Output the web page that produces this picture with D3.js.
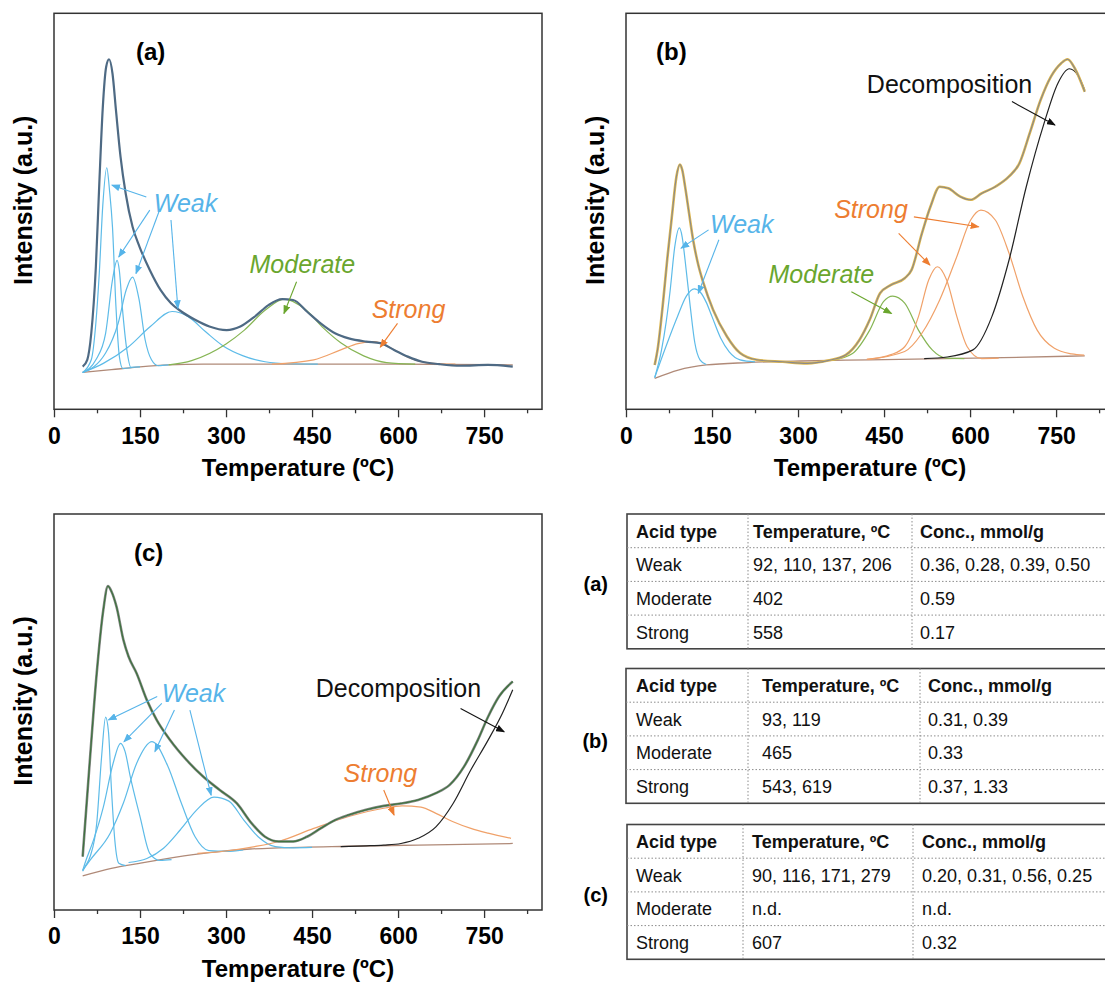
<!DOCTYPE html>
<html>
<head>
<meta charset="utf-8">
<script src="https://cdn.jsdelivr.net/npm/d3@7"></script>
<style>
  body { margin: 0; background: #fff; }
  text { font-family: "Liberation Sans", Arial, sans-serif; }
</style>
</head>
<body>
<div id="chart"></div>
<script>
// Axis ticks (temperature, ºC).
const majorTicks = [0, 150, 300, 450, 600, 750];
const minorTicks = [75, 225, 375, 525, 675, 825];

// Panel (a) curves: [temperature, intensity (a.u., 0-100 of the frame)].
const aMeasured = [[50,10.8],[58,12.5],[65,19.2],[73,36],[79,57],[85,76],[91,86.5],[96,88.4],[102,84.8],[108,75.6],[116,63.8],[125,54.5],[137,46.1],[149,41.1],[167,35.2],[186,30.1],[204,26.8],[222,24.7],[246,22.6],[271,20.9],[301,20],[325,20.9],[350,23.4],[374,26.3],[398,27.8],[417,27.6],[441,24.7],[465,21.7],[490,19.2],[514,17.9],[544,17.1],[569,16.7],[593,15],[617,13.3],[642,12],[672,11.4],[709,11],[757,11.2],[800,10.8]];
const aBaseline = [[50,9.3],[100,10],[150,10.7],[200,11.2],[260,11.4],[400,11.4],[600,11.4],[800,11.2]];
const aWeak = [
  [[50,9.3],[65,12.5],[73,21.8],[79,34.4],[85,51.3],[92,61],[97,55],[102,46],[108,26],[114,13.3],[120,10.3],[135,10.5]],
  [[50,9.3],[73,12.5],[90,19.2],[102,32.7],[110,37.6],[114,35],[119,26],[127,15],[134,10.6],[150,10.7]],
  [[50,9.3],[90,14.2],[112,21.8],[126,30.2],[137,33.4],[148,28],[159,17.5],[170,12.5],[182,11],[200,11.2]],
  [[50,9.3],[86,11.6],[130,15.8],[168,20.9],[206,24.7],[234,23.4],[265,19.5],[295,16],[330,13.5],[368,12],[410,11.5],[460,11.4]]
];
const aModerate = [[200,11.2],[240,12.3],[300,16.5],[332,20],[368,25],[402,27.8],[440,25],[470,20.5],[500,16.8],[540,13.5],[580,11.8],[630,11.4]];
const aStrong = [[380,11.4],[453,12.5],[500,15],[530,16.6],[558,17.1],[590,15.3],[620,13],[660,11.6],[700,11.4]];

// Panel (b) curves.
const bMeasured = [[50,11.2],[55,15],[65,27.6],[72,38],[80,48.7],[88,58.8],[94,61.8],[98,60.5],[103,56.3],[110,49.5],[117,42.8],[126,36.5],[135,31.9],[152,25.1],[176,18.4],[199,14.2],[228,12.5],[273,12],[316,11.6],[352,12.3],[383,13.7],[407,17.5],[425,22.6],[443,29.3],[462,31.4],[486,33.1],[498,35.2],[516,44.4],[531,51.2],[547,56.2],[562,55.8],[583,53.7],[601,52.9],[620,54.5],[644,56.2],[668,58.8],[686,62.1],[704,69.7],[723,78.1],[741,84],[759,87.4],[770,88.4],[783,86],[800,80.2]];
const bBaseline = [[50,7.8],[91,9.9],[140,11.2],[213,11.8],[304,12.2],[425,12.5],[607,12.9],[800,13.5]];
const bWeak = [
  [[50,8],[62,15],[70,22],[77,30],[85,41],[93,45.8],[98,43.5],[103,37.7],[112,26],[120,16.8],[129,12.5],[140,11.3]],
  [[50,8],[70,16],[90,23.5],[105,28.5],[119,30.4],[130,29.5],[140,27],[150,23.4],[165,18],[180,14.5],[199,12.5],[225,12]]
];
const bModerate = [[360,12.4],[395,14.1],[425,20],[449,27.2],[465,28.6],[486,26.8],[510,20],[534,15],[559,12.9],[590,12.8]];
const bStrong = [
  [[420,12.6],[462,13.8],[486,15.8],[510,23.4],[528,32.7],[543,36],[559,32.7],[577,23.4],[595,15.8],[620,12.8],[650,12.9]],
  [[420,12.6],[486,14.6],[516,19.2],[547,27.6],[577,38.6],[601,47.8],[619,50.3],[644,47.8],[668,39.4],[692,28.5],[717,20],[747,15.4],[777,14],[799,13.7]]
];
const bDecomposition = [[520,12.8],[560,13.2],[605,15],[638,23.4],[668,37.7],[698,56.2],[729,72.2],[753,82.3],[773,86],[788,84.4],[800,80.6]];

// Panel (c) curves.
const cMeasured = [[50,13.5],[63,38.7],[74.5,59.8],[86,75.8],[94,81.8],[100,80.5],[109,76.6],[121,68.2],[130,64],[144,59.8],[162,53],[179,48],[202,43],[231,37.9],[260,33.7],[289,30.3],[319,26.9],[344,22],[368,18.5],[392,17.3],[417,17.3],[441,18.5],[465,20.6],[490,22.7],[514,24],[544,25.3],[575,26.3],[605,26.9],[635,27.8],[666,29.5],[690,31.6],[715,36.2],[739,42.9],[757,48.8],[776,53.9],[800,57.7]];
const cBaseline = [[50,8.6],[100,10.5],[149,11.8],[210,13.3],[271,14.5],[342,15.4],[392,15.7],[514,16.1],[635,16.4],[800,16.8]];
const cWeak = [
  [[50,9.8],[54,10.9],[63,13.5],[74.5,21.9],[83,38.7],[90,48.7],[95,45],[100,31],[106,17.7],[113,11.8],[125,11.2]],
  [[50,10],[54,11.8],[69,17.7],[86,26],[103,37],[116,42.1],[124,40],[133,33.7],[150,23.6],[167,14.3],[185,12.5],[205,12.7]],
  [[50,10],[63,12.6],[98,19.4],[121,27],[144,37],[171,42.5],[198,36.5],[222,27],[246,18.5],[270,15],[300,14.8],[330,15.2]],
  [[130,12],[162,13],[191,15.6],[220,20.2],[249,25.3],[279,28.5],[305,27.5],[331,22.7],[356,18.5],[386,16],[417,15.7],[450,15.8]]
];
const cStrong = [[250,14.3],[301,14.9],[350,16],[392,17.3],[453,20.6],[514,23.6],[575,25.7],[607,26.3],[640,26],[666,24.4],[696,22.3],[727,20.6],[757,19.4],[797,18.1]];
const cDecomposition = [[500,16],[545,16.2],[575,16.4],[605,16.8],[635,18.1],[666,21],[696,26.9],[727,35.4],[757,42.9],[782,49.7],[800,55.6]];

// Tables.
const tableHeader = ["Acid type", "Temperature, ºC", "Conc., mmol/g"];
const acidTypes = ["Weak", "Moderate", "Strong"];
const aTemps = ["92, 110, 137, 206", "402", "558"];
const aConc = ["0.36, 0.28, 0.39, 0.50", "0.59", "0.17"];
const bTemps = ["93, 119", "465", "543, 619"];
const bConc = ["0.31, 0.39", "0.33", "0.37, 1.33"];
const cTemps = ["90, 116, 171, 279", "n.d.", "607"];
const cConc = ["0.20, 0.31, 0.56, 0.25", "n.d.", "0.32"];

// Colour codes.
const weakColor = "#56b4e9";
const weakLine = "#5dbbe8";
const moderateColor = "#6aa62e";
const moderateLine = "#86b554";
const strongColor = "#ed7d31";
const strongLine = "#f0a169";
const baseColor = "#b08a78";

const svg = d3.select("#chart")
  .append("svg")
    .attr("width", 1105)
    .attr("height", 985)
    .style("background", "#fff");

// Arrow heads, one per colour.
const defs = svg.append("defs");
[["weak", weakColor], ["moderate", moderateColor], ["strong", strongColor], ["dec", "#111"]].forEach(function(m) {
  defs.append("marker")
      .attr("id", "arr-" + m[0])
      .attr("markerUnits", "userSpaceOnUse")
      .attr("markerWidth", 9)
      .attr("markerHeight", 7)
      .attr("refX", 8)
      .attr("refY", 3.5)
      .attr("orient", "auto")
    .append("path")
      .attr("d", "M0,0 L9,3.5 L0,7 Z")
      .attr("fill", m[1]);
});

function drawPanel(p) {
  const x = d3.scaleLinear().domain([0, 851]).range([p.left, p.left + 488]);
  const y = d3.scaleLinear().domain([0, 100]).range([p.bottom, p.top]);
  const g = svg.append("g");

  const line = d3.line()
    .x(d => x(d[0]))
    .y(d => y(d[1]))
    .curve(d3.curveMonotoneX);

  const drawCurve = function(data, color, width) {
    g.append("path")
      .datum(data)
      .attr("d", line)
      .attr("fill", "none")
      .attr("stroke", color)
      .attr("stroke-width", width)
      .attr("stroke-linejoin", "round");
  };

  // Frame.
  g.append("rect")
    .attr("x", p.left)
    .attr("y", p.top)
    .attr("width", 488)
    .attr("height", p.bottom - p.top)
    .attr("fill", "none")
    .attr("stroke", "#333")
    .attr("stroke-width", 1.5);

  // X axis, major and minor ticks.
  g.append("g")
    .attr("transform", "translate(0," + p.bottom + ")")
    .call(d3.axisBottom(x).tickValues(majorTicks).tickSize(8).tickPadding(10).tickFormat(d3.format("d")))
    .call(a => a.select(".domain").remove())
    .call(a => a.selectAll("line").attr("stroke", "#333").attr("stroke-width", 1.3))
    .call(a => a.selectAll("text")
      .attr("fill", "#000")
      .style("font-family", "'Liberation Sans', Arial, sans-serif")
      .style("font-size", "23px")
      .style("font-weight", "700"));

  g.append("g")
    .attr("transform", "translate(0," + p.bottom + ")")
    .call(d3.axisBottom(x).tickValues(minorTicks).tickSize(4).tickFormat(""))
    .call(a => a.select(".domain").remove())
    .call(a => a.selectAll("line").attr("stroke", "#333").attr("stroke-width", 1.3));

  // Axis titles.
  g.append("text")
    .attr("x", p.left + 244)
    .attr("y", p.bottom + 67)
    .attr("text-anchor", "middle")
    .style("font-size", "24px")
    .style("font-weight", "700")
    .text("Temperature (ºC)");

  g.append("text")
    .attr("transform", "translate(" + (p.left - 22) + "," + (p.top + 187) + ") rotate(-90)")
    .attr("text-anchor", "middle")
    .style("font-size", "25px")
    .style("font-weight", "700")
    .text("Intensity (a.u.)");

  // Panel letter.
  g.append("text")
    .attr("x", p.left + p.letterDx)
    .attr("y", p.top + 47)
    .style("font-size", "24px")
    .style("font-weight", "700")
    .text(p.letter);

  // Curves: baseline, fitted peaks, then the measured signal on top.
  drawCurve(p.baseline, baseColor, 1.3);
  p.weak.forEach(d => drawCurve(d, weakLine, 1.2));
  if (p.moderate) drawCurve(p.moderate, moderateLine, 1.2);
  p.strong.forEach(d => drawCurve(d, strongLine, 1.2));
  if (p.decomposition) drawCurve(p.decomposition, "#222", 1.2);
  if (p.fitColor) drawCurve(p.measured, p.fitColor, 2.6);
  drawCurve(p.measured, p.measuredColor, p.measuredWidth);

  // Annotations with arrows (given in data coordinates).
  p.notes.forEach(function(n) {
    g.append("text")
      .attr("x", x(n.at[0]))
      .attr("y", y(n.at[1]))
      .attr("fill", n.color)
      .style("font-size", "25px")
      .style("font-style", n.italic ? "italic" : "normal")
      .text(n.text);
    n.arrows.forEach(function(a) {
      g.append("line")
        .attr("x1", x(a[0]))
        .attr("y1", y(a[1]))
        .attr("x2", x(a[2]))
        .attr("y2", y(a[3]))
        .attr("stroke", n.color)
        .attr("stroke-width", 1.1)
        .attr("marker-end", "url(#arr-" + n.marker + ")");
    });
  });
}

drawPanel({
  letter: "(a)", letterDx: 82, left: 54, top: 13.3, bottom: 409.3,
  measured: aMeasured, measuredColor: "#4e6a84", measuredWidth: 2.2,
  baseline: aBaseline, weak: aWeak, moderate: aModerate, strong: [aStrong],
  notes: [
    {text: "Weak", color: weakColor, marker: "weak", italic: true, at: [174, 49.8],
      arrows: [[161, 53.6, 101, 56.6], [167, 50.3, 113, 38.5], [183, 49.9, 143, 34.3], [204, 47.8, 216, 25.5]]},
    {text: "Moderate", color: moderateColor, marker: "moderate", italic: true, at: [341, 34.4],
      arrows: [[423, 32.2, 401, 24.2]]},
    {text: "Strong", color: strongColor, marker: "strong", italic: true, at: [554, 23],
      arrows: [[599, 21.7, 569, 15.7]]}
  ]
});

drawPanel({
  letter: "(b)", letterDx: 30, left: 626, top: 13.3, bottom: 409.3,
  measured: bMeasured, measuredColor: "#8a8a8a", measuredWidth: 1.1, fitColor: "#e0b84e",
  baseline: bBaseline, weak: bWeak, moderate: bModerate, strong: bStrong, decomposition: bDecomposition,
  notes: [
    {text: "Weak", color: weakColor, marker: "weak", italic: true, at: [146.5, 44.5],
      arrows: [[144, 45.3, 96, 40.7], [162, 42.8, 126, 29.3]]},
    {text: "Moderate", color: moderateColor, marker: "moderate", italic: true, at: [248.6, 31.9],
      arrows: [[393, 29.7, 463, 24.2]]},
    {text: "Strong", color: strongColor, marker: "strong", italic: true, at: [363, 48.3],
      arrows: [[475.5, 44.4, 530, 36.4], [502, 48.6, 615, 46.1]]},
    {text: "Decomposition", color: "#111", marker: "dec", italic: false, at: [420, 79.9],
      arrows: [[673, 77.7, 748, 71.8]]}
  ]
});

drawPanel({
  letter: "(c)", letterDx: 80, left: 54, top: 514, bottom: 910,
  measured: cMeasured, measuredColor: "#3f7340", measuredWidth: 1.3, fitColor: "#8a8a8a",
  baseline: cBaseline, weak: cWeak, moderate: null, strong: [cStrong], decomposition: cDecomposition,
  notes: [
    {text: "Weak", color: weakColor, marker: "weak", italic: true, at: [188, 52.6],
      arrows: [[180, 53.9, 95, 48], [188, 52.2, 122, 42.5], [210, 50.5, 176, 40], [237, 50.5, 274, 29]]},
    {text: "Decomposition", color: "#111", marker: "dec", italic: false, at: [456.5, 53.9],
      arrows: [[709, 50.9, 785, 45]]},
    {text: "Strong", color: strongColor, marker: "strong", italic: true, at: [505, 32.4],
      arrows: [[575, 30.3, 593, 24]]}
  ]
});

// Tables beside panel (c).
function drawTable(t) {
  const g = svg.append("g");
  const rowH = 33.7;
  const rows = [tableHeader].concat(acidTypes.map((d, i) => [d, t.temps[i], t.conc[i]]));
  const bottom = t.top + rowH * 4;

  g.append("rect")
    .attr("x", t.left)
    .attr("y", t.top)
    .attr("width", 520)
    .attr("height", rowH * 4)
    .attr("fill", "none")
    .attr("stroke", "#444")
    .attr("stroke-width", 1.6);

  // Dotted row and column lines.
  [1, 2, 3].forEach(function(i) {
    g.append("line")
      .attr("x1", t.left)
      .attr("x2", 1105)
      .attr("y1", t.top + rowH * i)
      .attr("y2", t.top + rowH * i)
      .attr("stroke", "#8c8c8c")
      .attr("stroke-width", 1)
      .attr("stroke-dasharray", "1.5,2");
  });
  t.cols.forEach(function(cx) {
    g.append("line")
      .attr("x1", cx)
      .attr("x2", cx)
      .attr("y1", t.top)
      .attr("y2", bottom)
      .attr("stroke", "#8c8c8c")
      .attr("stroke-width", 1)
      .attr("stroke-dasharray", "1.5,2");
  });

  rows.forEach(function(r, i) {
    r.forEach(function(cell, j) {
      g.append("text")
        .attr("x", t.textX[j])
        .attr("y", t.top + 23.5 + rowH * i)
        .style("font-size", "18px")
        .style("font-weight", i === 0 ? "700" : "400")
        .attr("fill", "#111")
        .text(cell);
    });
  });

  g.append("text")
    .attr("x", 608)
    .attr("y", t.labelY)
    .attr("text-anchor", "end")
    .style("font-size", "20px")
    .style("font-weight", "700")
    .text(t.label);
}

drawTable({label: "(a)", labelY: 591, left: 627, top: 514, cols: [748, 912], textX: [636, 753, 920], temps: aTemps, conc: aConc});
drawTable({label: "(b)", labelY: 748, left: 626, top: 668.5, cols: [748, 920], textX: [636, 762, 928], temps: bTemps, conc: bConc});
drawTable({label: "(c)", labelY: 902, left: 627, top: 824.5, cols: [743, 913], textX: [636, 752, 922], temps: cTemps, conc: cConc});
</script>
</body>
</html>
